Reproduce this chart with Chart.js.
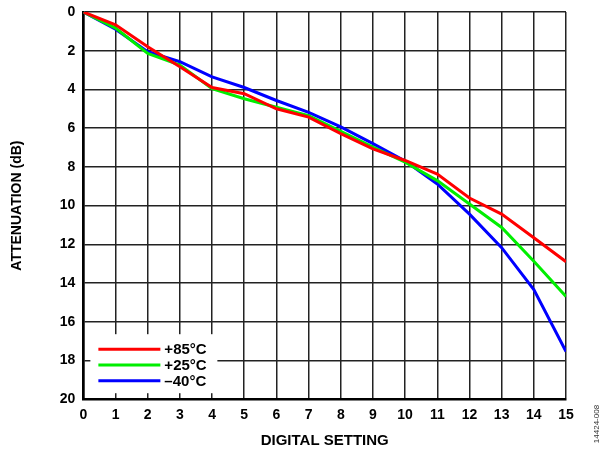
<!DOCTYPE html>
<html>
<head>
<meta charset="utf-8">
<script src="https://cdn.jsdelivr.net/npm/chart.js@4"></script>
<style>
  html, body { margin: 0; padding: 0; background: #fff; }
  #wrap { width: 611px; height: 452px; position: relative; }
</style>
</head>
<body>
<div id="wrap"><canvas id="chart"></canvas></div>
<script>
// digital setting 0..15
const settings = [0, 1, 2, 3, 4, 5, 6, 7, 8, 9, 10, 11, 12, 13, 14, 15];
const seriesLabels = ['+85°C', '+25°C', '–40°C'];
const hot85 = [0, 0.66, 1.79, 2.83, 3.9, 4.22, 5.0, 5.43, 6.28, 7.07, 7.67, 8.37, 9.61, 10.44, 11.66, 12.9];
const room25 = [0, 0.83, 2.14, 2.74, 3.96, 4.48, 4.92, 5.35, 6.17, 6.98, 7.76, 8.71, 9.92, 11.13, 12.87, 14.69];
const cold40 = [0, 0.89, 2.05, 2.57, 3.35, 3.9, 4.57, 5.18, 5.93, 6.8, 7.7, 8.88, 10.44, 12.17, 14.34, 17.54];
const yTicks = [0, 2, 4, 6, 8, 10, 12, 14, 16, 18, 20];

const FONT = "'Liberation Sans', Arial, sans-serif";

const toPoints = (vals) => settings.map((s, i) => ({ x: s, y: vals[i] }));

// legend box drawn inside the plot, lower left
const insideLegend = {
  id: 'insideLegend',
  afterDatasetsDraw(chart) {
    const { ctx, chartArea } = chart;
    const x0 = chartArea.left + 7;
    const y0 = chartArea.bottom - 65;
    ctx.save();
    ctx.fillStyle = '#fff';
    ctx.fillRect(x0, y0, 127, 59);
    ctx.font = 'bold 15px ' + FONT;
    ctx.textBaseline = 'middle';
    chart.data.datasets.forEach((ds, i) => {
      const y = y0 + 15 + i * 15.8;
      ctx.strokeStyle = ds.borderColor;
      ctx.lineWidth = 3;
      ctx.beginPath();
      ctx.moveTo(x0 + 8, y);
      ctx.lineTo(x0 + 70, y);
      ctx.stroke();
      ctx.fillStyle = '#000';
      ctx.fillText(ds.label, x0 + 74, y + 1);
    });
    ctx.restore();
  }
};

// figure id on the right edge
const sideNote = {
  id: 'sideNote',
  afterDraw(chart) {
    const ctx = chart.ctx;
    ctx.save();
    ctx.translate(597, 424);
    ctx.rotate(-Math.PI / 2);
    ctx.font = '8px ' + FONT;
    ctx.fillStyle = '#333';
    ctx.textAlign = 'center';
    ctx.textBaseline = 'middle';
    ctx.fillText('14424-008', 0, 0);
    ctx.restore();
  }
};

new Chart(document.getElementById('chart'), {
  type: 'line',
  data: {
    datasets: [
      { label: seriesLabels[0], data: toPoints(hot85), borderColor: '#ff0000' },
      { label: seriesLabels[1], data: toPoints(room25), borderColor: '#00ee00' },
      { label: seriesLabels[2], data: toPoints(cold40), borderColor: '#0000ff' },
    ].map(d => Object.assign(d, { borderWidth: 3, pointRadius: 0, tension: 0, fill: false })),
  },
  options: {
    responsive: true,
    maintainAspectRatio: false,
    animation: false,
    layout: { padding: { top: 0, right: 45, left: 5, bottom: 0 } },
    plugins: {
      legend: { display: false },
      tooltip: { enabled: false },
    },
    scales: {
      x: {
        type: 'linear',
        min: 0,
        max: 15,
        ticks: { stepSize: 1, color: '#000', padding: 8, font: { family: FONT, size: 14, weight: 'bold' } },
        grid: { color: '#222', lineWidth: 1.5, drawTicks: false },
        border: { color: '#000', width: 2.5 },
        title: { display: true, text: 'DIGITAL SETTING', color: '#000', padding: { top: 0, bottom: 2 }, font: { family: FONT, size: 15, weight: 'bold' } },
      },
      y: {
        type: 'linear',
        reverse: true,
        min: 0,
        max: 20,
        afterBuildTicks: (axis) => { axis.ticks = yTicks.map(v => ({ value: v })); },
        afterFit: (axis) => { axis.paddingTop = 12; },
        ticks: { color: '#000', padding: 8, font: { family: FONT, size: 14, weight: 'bold' } },
        grid: { color: '#222', lineWidth: 1.5, drawTicks: false },
        border: { color: '#000', width: 2.5 },
        title: { display: true, text: 'ATTENUATION (dB)', color: '#000', padding: { bottom: 26 }, font: { family: FONT, size: 14, weight: 'bold' } },
      },
    },
  },
  plugins: [insideLegend, sideNote],
});
</script>
</body>
</html>
